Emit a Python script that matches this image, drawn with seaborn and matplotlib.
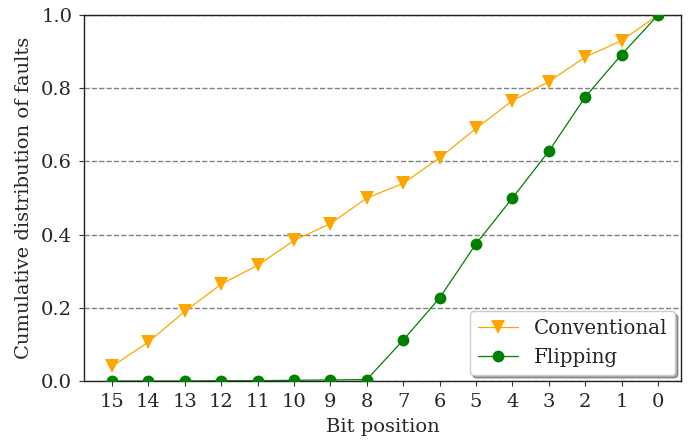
import matplotlib
matplotlib.use("Agg")
import matplotlib.pyplot as plt
import seaborn as sns
import pandas as pd

# Bit positions, most significant first
bits = [15, 14, 13, 12, 11, 10, 9, 8, 7, 6, 5, 4, 3, 2, 1, 0]

# Cumulative fault distribution per scheme
conventional = [0.04, 0.107, 0.19, 0.265, 0.316, 0.384, 0.43, 0.50,
                0.54, 0.61, 0.69, 0.766, 0.818, 0.885, 0.93, 1.0]
flipping = [0.0, 0.0, 0.0, 0.001, 0.001, 0.002, 0.003, 0.004,
            0.112, 0.227, 0.375, 0.50, 0.628, 0.776, 0.892, 1.0]

series_names = ["Conventional", "Flipping"]

df = pd.concat([
    pd.DataFrame({"bit": bits, "value": conventional, "scheme": series_names[0]}),
    pd.DataFrame({"bit": bits, "value": flipping, "scheme": series_names[1]}),
])

sns.set_style("ticks")
plt.rcParams["font.family"] = ["DejaVu Serif"]
plt.rcParams["font.size"] = 14

fig = plt.figure(figsize=(6.91, 4.41), dpi=100)
ax = fig.add_axes([0.1216, 0.136, 0.8639, 0.830])

for (name, color, marker, ms) in [
    ("Conventional", "orange", "v", 10),
    ("Flipping", "green", "o", 8.5),
]:
    sub = df[df["scheme"] == name]
    sns.lineplot(data=sub, x="bit", y="value", ax=ax, color=color,
                 marker=marker, markersize=ms, markeredgewidth=0,
                 linewidth=0.9, label=name, zorder=3)

ax.set_xlim(15.77, -0.63)
ax.set_ylim(0, 1.0)
ax.set_xticks(bits)
ax.set_xticklabels([str(b) for b in bits])
ax.set_yticks([0.0, 0.2, 0.4, 0.6, 0.8, 1.0])
ax.yaxis.grid(True, linestyle="--", color="gray", linewidth=1)
ax.xaxis.grid(False)
ax.set_xlabel("Bit position", fontsize=14, labelpad=5)
ax.set_ylabel("Cumulative distribution of faults", fontsize=14, labelpad=6)
ax.tick_params(labelsize=14, pad=5, color="#333333")
for sp in ax.spines.values():
    sp.set_color("#222222")
    sp.set_linewidth(1)

ax.legend(loc="lower right", fontsize=14.3, shadow=True, frameon=True,
          borderaxespad=0.3)

fig.savefig("out.png", dpi=100)
